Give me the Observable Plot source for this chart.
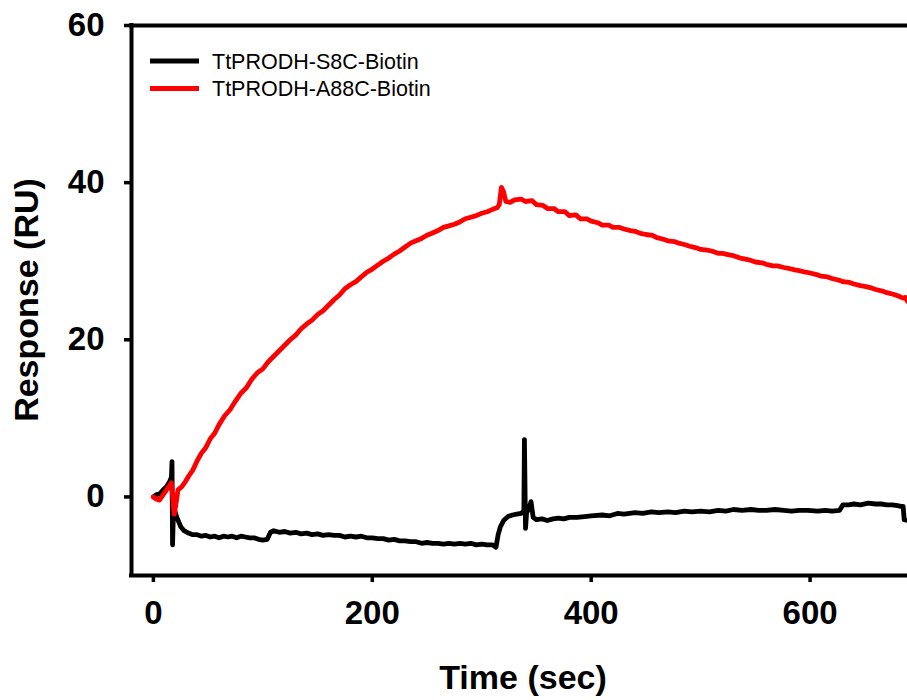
<!DOCTYPE html>
<html><head><meta charset="utf-8">
<script src="https://cdn.jsdelivr.net/npm/d3@7"></script>
<script src="https://cdn.jsdelivr.net/npm/@observablehq/plot@0.6"></script>
<style>body{margin:0;background:#fff} #chart{width:907px;height:700px}</style>
</head><body><div id="chart"></div>
<script>
const seriesNames = ["TtPRODH-S8C-Biotin", "TtPRODH-A88C-Biotin"];
const seriesColors = ["#000000", "#ff0000"];
const xTicks = [0, 200, 400, 600];
const yTicks = [0, 20, 40, 60];
const xTitle = "Time (sec)";
const yTitle = "Response (RU)";

// TtPRODH-S8C-Biotin (black)
const s8cTime = [0,3,6,9,12,15,16.5,17,17.5,18.5,20,22,25,28,32,36,40,44,48,52,56,60,64,68,72,76,80,84,88,92,96,100,104,107,110,115,120,125,130,135,140,145,150,155,160,165,170,175,180,185,190,195,200,205,210,215,220,225,230,235,240,245,250,255,260,265,270,275,280,285,290,295,300,305,310,313,315,317,320,324,328,332,336,338.5,339,340,341,343,345,347,350,355,360,365,370,375,380,387,394,400,410,417,424,430,440,447,455,462,470,477,485,492,500,508,516,523,530,538,546,553,560,568,576,583,590,598,607,614,620,627,630,635,640,646,653,660,665,670,675,680,683,685,686,689];
const s8cResp = [0,0.3,0.4,0.9,1.3,2.0,2.5,4.5,-6.1,-1.0,-2.0,-2.8,-3.8,-4.3,-4.6,-4.8,-4.8,-5.0,-4.9,-5.1,-5.0,-5.2,-5.0,-5.1,-5.0,-5.2,-5.0,-5.1,-5.2,-5.2,-5.4,-5.5,-5.4,-4.5,-4.3,-4.5,-4.4,-4.6,-4.5,-4.7,-4.6,-4.8,-4.7,-4.9,-4.8,-4.9,-4.9,-5.1,-5.0,-5.1,-5.0,-5.2,-5.2,-5.3,-5.3,-5.5,-5.4,-5.6,-5.6,-5.7,-5.7,-5.9,-5.8,-5.9,-5.9,-6.0,-5.9,-6.0,-5.9,-6.0,-5.9,-6.1,-6.0,-6.1,-6.1,-6.4,-4.8,-3.8,-3.0,-2.5,-2.3,-2.2,-2.1,-1.8,7.3,-4.0,-2.0,-1.5,-0.6,-2.6,-2.9,-2.8,-3.0,-2.8,-2.7,-2.8,-2.6,-2.6,-2.5,-2.4,-2.3,-2.4,-2.1,-2.2,-2.0,-2.1,-1.9,-2.0,-1.9,-2.0,-1.8,-1.9,-1.8,-1.9,-1.7,-1.8,-1.6,-1.7,-1.6,-1.7,-1.7,-1.6,-1.7,-1.8,-1.7,-1.7,-1.8,-1.7,-1.8,-1.7,-1.0,-1.0,-0.9,-1.0,-0.8,-0.9,-0.9,-1.0,-1.0,-1.1,-1.2,-1.2,-2.9,-3.0];

// TtPRODH-A88C-Biotin (red)
const a88cTime = [0,3,5.5,9,13,16.4,19,20.5,22.5,26,29,32,36,40,44,48,52,56,60,65,70,75,80,85,90,95,100,105,110,115,120,125,130,135,140,145,150,155,160,165,170,175,180,185,190,195,200,205,210,215,220,225,230,235,240,245,250,255,260,265,270,275,280,285,290,295,300,305,310,314,316,318,320,322,326,330,336,340,346,350,356,360,366,370,376,380,386,390,396,400,406,410,416,420,426,430,436,440,446,450,456,460,466,470,476,480,486,490,496,500,506,510,516,520,526,530,536,540,546,550,556,560,566,570,576,580,586,590,596,600,606,610,616,620,626,630,636,640,646,650,656,660,666,670,676,680,685,687,689];
const a88cResp = [0,-0.3,-0.4,0.3,1.1,1.8,-2.2,-1.0,0.9,1.3,1.9,2.6,3.4,4.6,5.6,6.3,7.4,8.1,9.2,10.3,11.1,12.2,13.2,13.9,15.0,15.8,16.3,17.2,17.9,18.6,19.3,20.0,20.6,21.4,22.0,22.5,23.2,23.7,24.4,25.1,25.7,26.5,27.0,27.4,28.0,28.6,29.0,29.5,30.0,30.4,30.9,31.3,31.8,32.3,32.6,32.9,33.3,33.6,33.9,34.3,34.5,34.7,35.0,35.4,35.6,35.8,36.1,36.3,36.6,36.8,37.2,39.4,38.8,37.6,37.5,37.8,37.9,37.6,37.7,37.2,37.1,36.7,36.7,36.3,36.3,35.8,35.9,35.4,35.4,35.1,34.9,34.6,34.6,34.3,34.3,34.1,33.9,33.8,33.5,33.4,33.3,33.0,32.8,32.6,32.5,32.3,32.1,31.9,31.7,31.5,31.4,31.3,31.0,31.0,30.8,30.7,30.4,30.3,30.1,29.9,29.8,29.6,29.4,29.4,29.2,29.1,28.9,28.8,28.6,28.5,28.3,28.1,28.0,27.8,27.6,27.4,27.3,27.1,26.9,26.8,26.6,26.4,26.2,26.0,25.8,25.6,25.3,25.4,24.9];

const rows = [
  ...s8cTime.map((t, i) => ({t, v: s8cResp[i], s: seriesNames[0]})),
  ...a88cTime.map((t, i) => ({t, v: a88cResp[i], s: seriesNames[1]}))
];

const font = "'Liberation Sans', Arial, Helvetica, sans-serif";

const plot = Plot.plot({
  width: 907, height: 700,
  marginLeft: 131, marginRight: 0, marginTop: 25, marginBottom: 125,
  style: {fontFamily: font, background: "#fff", color: "#000"},
  x: {domain: [-20, 689]},
  y: {domain: [-10, 60]},
  color: {domain: seriesNames, range: seriesColors},
  marks: [
    Plot.axisX({ticks: xTicks, tickSize: 7, tickPadding: 18, fontSize: 33, fontWeight: "bold", strokeWidth: 3.5, label: null}),
    Plot.axisY({ticks: yTicks, tickSize: 7, tickPadding: 20, fontSize: 33, fontWeight: "bold", strokeWidth: 3.5, label: null}),
    Plot.ruleX([-20], {strokeWidth: 4, strokeLinecap: "square"}),
    Plot.ruleY([-10], {strokeWidth: 4, strokeLinecap: "square"}),
    Plot.ruleY([60], {strokeWidth: 4, strokeLinecap: "square"}),
    Plot.line(rows, {x: "t", y: "v", z: "s", stroke: "s", strokeWidth: 4.8, strokeLinejoin: "round", curve: "linear"})
  ]
});

const svg = d3.select(plot);
// axis titles
svg.append("text").attr("x", 523).attr("y", 689).attr("text-anchor", "middle")
  .attr("font-family", font).attr("font-weight", "bold").attr("font-size", 34).attr("fill", "#000").text(xTitle);
svg.append("text").attr("transform", "translate(38,300) rotate(-90)").attr("text-anchor", "middle")
  .attr("font-family", font).attr("font-weight", "bold").attr("font-size", 34).attr("fill", "#000").text(yTitle);
// legend
const lg = svg.append("g");
seriesNames.forEach((name, i) => {
  const y = 61 + i * 27.5;
  lg.append("line").attr("x1", 150).attr("x2", 199).attr("y1", y).attr("y2", y)
    .attr("stroke", seriesColors[i]).attr("stroke-width", 5);
  lg.append("text").attr("x", 212).attr("y", y + 7.5).attr("text-anchor", "start").attr("font-family", font)
    .attr("font-size", 21.5).attr("fill", "#000").text(name);
});

document.getElementById("chart").appendChild(plot);
</script>
</body></html>
